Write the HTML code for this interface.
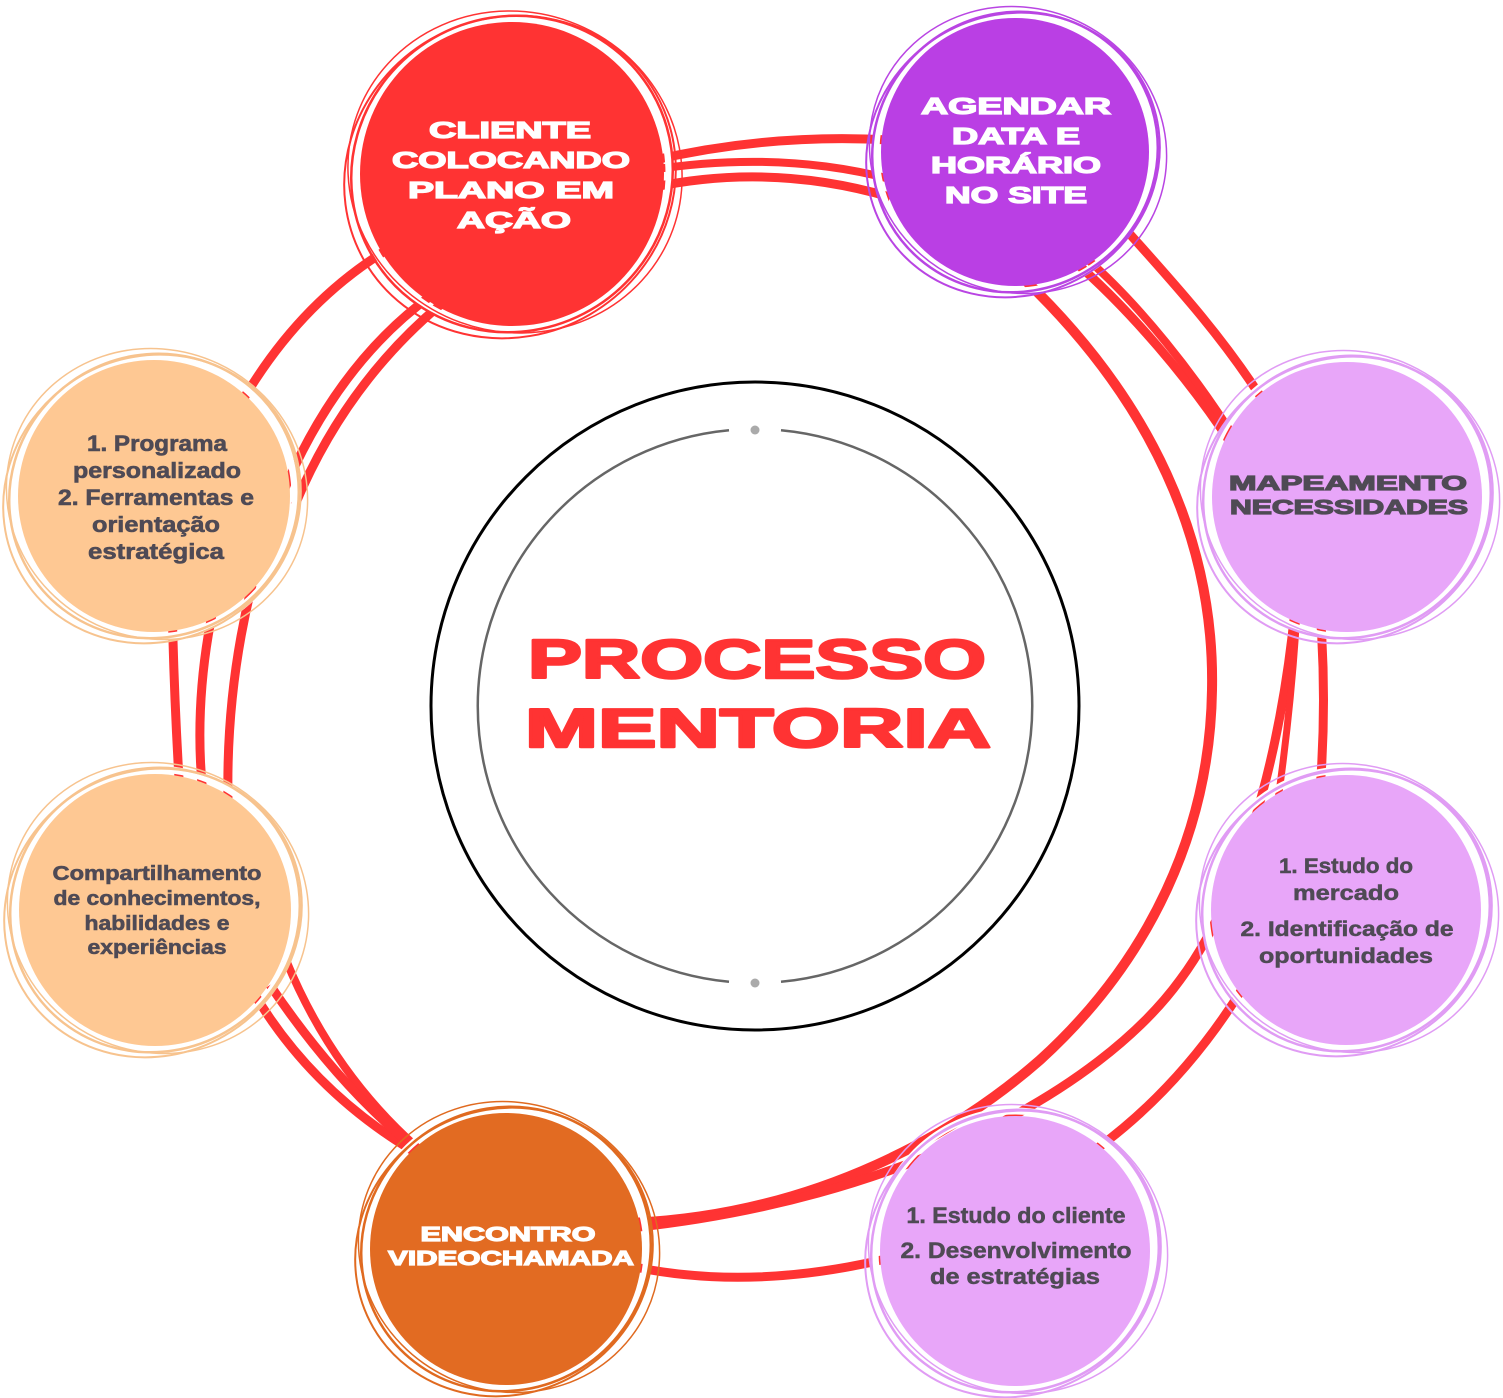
<!DOCTYPE html>
<html><head><meta charset="utf-8"><style>
html,body{margin:0;padding:0;background:#fff;}
svg{display:block;}
text{font-family:"Liberation Sans",Arial,sans-serif;font-weight:bold;}
</style></head><body>
<svg width="1503" height="1398" viewBox="0 0 1503 1398" xmlns="http://www.w3.org/2000/svg">
<rect width="1503" height="1398" fill="#fff"/>

<!-- center circles -->
<circle cx="755" cy="706" r="324" fill="none" stroke="#000" stroke-width="3"/>
<path d="M729,430.2 A277,277 0 0 0 729,981.8" fill="none" stroke="#666" stroke-width="2.5"/>
<path d="M781,430.2 A277,277 0 0 1 781,981.8" fill="none" stroke="#666" stroke-width="2.5"/>
<circle cx="755" cy="430" r="4.5" fill="#aaa"/>
<circle cx="755" cy="983" r="4.5" fill="#aaa"/>

<!-- red connectors -->
<g fill="none" stroke="#FF3333" stroke-linecap="butt">
  <!-- top -->
  <path d="M650,161 Q770,133 890,140" stroke-width="9"/>
  <path d="M650,170 Q780,150 890,179" stroke-width="8"/>
  <path d="M650,188 Q770,162 890,197" stroke-width="9"/>
  <!-- top-left -->
  <path d="M395,245 Q300,300 240,405" stroke-width="9"/>
  <path d="M432,295 Q335,365 280,500" stroke-width="9"/>
  <path d="M440,305 Q345,385 295,505" stroke-width="9"/>
  <!-- left middle -->
  <path d="M172,600 Q174,700 180,795" stroke-width="9"/>
  <path d="M215,600 Q193,700 203,795" stroke-width="9"/>
  <path d="M252,585 Q226,690 228,800" stroke-width="9"/>
  <!-- bottom-left -->
  <path d="M286,960 C322,1048 372,1108 420,1150" stroke-width="8"/>
  <path d="M255,995 C300,1070 360,1120 418,1154" stroke-width="9"/>
  <path d="M270,985 C322,1062 372,1114 420,1152" stroke-width="9"/>
  <!-- big arc -->
  <path d="M1025,280 C1150,400 1215,540 1212,690 C1210,830 1150,960 1040,1060 C960,1130 820,1215 630,1223" stroke-width="10"/>
  <!-- long line B -->
  <path d="M1295,610 C1280,760 1240,900 1180,980 C1100,1090 900,1200 630,1228" stroke-width="9"/>
  <!-- line C -->
  <path d="M1262,955 C1210,1050 1150,1110 1095,1150" stroke-width="9"/>
  <!-- mapeamento to mercado -->
  <path d="M1297,610 Q1292,700 1278,800" stroke-width="7"/>
  <path d="M1320,610 Q1327,700 1320,790" stroke-width="9"/>
  <!-- encontro lower -->
  <path d="M630,1266 Q750,1292 890,1258" stroke-width="9"/>
  <!-- top-right -->
  <path d="M1075,262 C1130,310 1190,380 1232,445" stroke-width="9"/>
  <path d="M1086,258 C1140,305 1195,375 1236,440" stroke-width="8"/>
  <path d="M1128,232 C1180,290 1225,340 1266,405" stroke-width="9"/>
</g>

<!-- nodes -->
<!-- CLIENTE -->
<g fill="none">
  <circle cx="512" cy="174" r="157" stroke="#fff" stroke-width="7"/>
  <circle cx="512" cy="174" r="152" fill="#FF3333"/>
  <ellipse cx="512" cy="174" rx="162" ry="157" transform="rotate(-30 512 174)" stroke="#FF3333" stroke-width="2.5"/>
  <ellipse cx="515" cy="172" rx="168" ry="160" transform="rotate(20 515 172)" stroke="#FF3333" stroke-width="1.5"/>
  <ellipse cx="510" cy="177" rx="159" ry="168" transform="rotate(60 510 177)" stroke="#FF3333" stroke-width="2"/>
</g>
<g fill="#fff" stroke="#fff" stroke-width="1.3" text-anchor="middle" font-size="23">
  <text x="510" y="138" textLength="162" lengthAdjust="spacingAndGlyphs">CLIENTE</text>
  <text x="511" y="168" textLength="238" lengthAdjust="spacingAndGlyphs">COLOCANDO</text>
  <text x="511" y="198" textLength="206" lengthAdjust="spacingAndGlyphs">PLANO EM</text>
  <text x="514" y="228" textLength="114" lengthAdjust="spacingAndGlyphs">AÇÃO</text>
</g>

<!-- AGENDAR -->
<g fill="none">
  <circle cx="1015" cy="152" r="139" stroke="#fff" stroke-width="7"/>
  <circle cx="1015" cy="152" r="134" fill="#BA3FE4"/>
  <ellipse cx="1015" cy="152" rx="144" ry="139" transform="rotate(-30 1015 152)" stroke="#B945E3" stroke-width="2.5"/>
  <ellipse cx="1018" cy="150" rx="150" ry="142" transform="rotate(25 1018 150)" stroke="#B945E3" stroke-width="1.5"/>
  <ellipse cx="1013" cy="155" rx="140" ry="149" transform="rotate(60 1013 155)" stroke="#B945E3" stroke-width="2"/>
</g>
<g fill="#fff" stroke="#fff" stroke-width="1.3" text-anchor="middle" font-size="23">
  <text x="1016" y="114" textLength="190" lengthAdjust="spacingAndGlyphs">AGENDAR</text>
  <text x="1016" y="144" textLength="128" lengthAdjust="spacingAndGlyphs">DATA E</text>
  <text x="1016" y="173" textLength="170" lengthAdjust="spacingAndGlyphs">HORÁRIO</text>
  <text x="1016" y="203" textLength="142" lengthAdjust="spacingAndGlyphs">NO SITE</text>
</g>

<!-- MAPEAMENTO -->
<g fill="none">
  <circle cx="1347" cy="497" r="140" stroke="#fff" stroke-width="7"/>
  <circle cx="1347" cy="497" r="135" fill="#E8A6F9"/>
  <ellipse cx="1347" cy="497" rx="145" ry="140" transform="rotate(-30 1347 497)" stroke="#E09CF4" stroke-width="2.5"/>
  <ellipse cx="1350" cy="495" rx="151" ry="143" transform="rotate(25 1350 495)" stroke="#E09CF4" stroke-width="1.5"/>
  <ellipse cx="1345" cy="500" rx="141" ry="150" transform="rotate(60 1345 500)" stroke="#E09CF4" stroke-width="2"/>
</g>
<g fill="#4F4A55" stroke="#4F4A55" stroke-width="1.2" text-anchor="middle" font-size="20">
  <text x="1348" y="490" textLength="238" lengthAdjust="spacingAndGlyphs">MAPEAMENTO</text>
  <text x="1349" y="514" textLength="238" lengthAdjust="spacingAndGlyphs">NECESSIDADES</text>
</g>

<!-- MERCADO -->
<g fill="none">
  <circle cx="1346" cy="910" r="140" stroke="#fff" stroke-width="7"/>
  <circle cx="1346" cy="910" r="135" fill="#E8A6F9"/>
  <ellipse cx="1346" cy="910" rx="145" ry="140" transform="rotate(-30 1346 910)" stroke="#E09CF4" stroke-width="2.5"/>
  <ellipse cx="1349" cy="908" rx="151" ry="143" transform="rotate(25 1349 908)" stroke="#E09CF4" stroke-width="1.5"/>
  <ellipse cx="1344" cy="913" rx="141" ry="150" transform="rotate(60 1344 913)" stroke="#E09CF4" stroke-width="2"/>
</g>
<g fill="#4F4A55" stroke="#4F4A55" stroke-width="0.5" text-anchor="middle" font-size="21">
  <text x="1346" y="873" textLength="134" lengthAdjust="spacingAndGlyphs">1. Estudo do</text>
  <text x="1346" y="900" textLength="106" lengthAdjust="spacingAndGlyphs">mercado</text>
  <text x="1347" y="936" textLength="213" lengthAdjust="spacingAndGlyphs">2. Identificação de</text>
  <text x="1346" y="963" textLength="174" lengthAdjust="spacingAndGlyphs">oportunidades</text>
</g>

<!-- ESTUDO CLIENTE -->
<g fill="none">
  <circle cx="1015" cy="1251" r="140" stroke="#fff" stroke-width="7"/>
  <circle cx="1015" cy="1251" r="135" fill="#E8A6F9"/>
  <ellipse cx="1015" cy="1251" rx="145" ry="140" transform="rotate(-30 1015 1251)" stroke="#E09CF4" stroke-width="2.5"/>
  <ellipse cx="1018" cy="1249" rx="151" ry="143" transform="rotate(25 1018 1249)" stroke="#E09CF4" stroke-width="1.5"/>
  <ellipse cx="1013" cy="1254" rx="141" ry="150" transform="rotate(60 1013 1254)" stroke="#E09CF4" stroke-width="2"/>
</g>
<g fill="#4F4A55" stroke="#4F4A55" stroke-width="0.5" text-anchor="middle" font-size="22">
  <text x="1016" y="1223" textLength="219" lengthAdjust="spacingAndGlyphs">1. Estudo do cliente</text>
  <text x="1016" y="1258" textLength="231" lengthAdjust="spacingAndGlyphs">2. Desenvolvimento</text>
  <text x="1015" y="1284" textLength="170" lengthAdjust="spacingAndGlyphs">de estratégias</text>
</g>

<!-- ENCONTRO -->
<g fill="none">
  <circle cx="506" cy="1249" r="141" stroke="#fff" stroke-width="7"/>
  <circle cx="506" cy="1249" r="136" fill="#E26B22"/>
  <ellipse cx="506" cy="1249" rx="146" ry="141" transform="rotate(-30 506 1249)" stroke="#E06A20" stroke-width="2.5"/>
  <ellipse cx="509" cy="1247" rx="152" ry="144" transform="rotate(25 509 1247)" stroke="#E06A20" stroke-width="1.5"/>
  <ellipse cx="504" cy="1252" rx="142" ry="151" transform="rotate(60 504 1252)" stroke="#E06A20" stroke-width="2"/>
</g>
<g fill="#fff" stroke="#fff" stroke-width="1.2" text-anchor="middle" font-size="20">
  <text x="508" y="1241" textLength="175" lengthAdjust="spacingAndGlyphs">ENCONTRO</text>
  <text x="511" y="1265" textLength="246" lengthAdjust="spacingAndGlyphs">VIDEOCHAMADA</text>
</g>

<!-- COMPARTILHAMENTO -->
<g fill="none">
  <circle cx="155" cy="910" r="141" stroke="#fff" stroke-width="7"/>
  <circle cx="155" cy="910" r="136" fill="#FEC893"/>
  <ellipse cx="155" cy="910" rx="146" ry="141" transform="rotate(-30 155 910)" stroke="#F7C38E" stroke-width="2.5"/>
  <ellipse cx="158" cy="908" rx="152" ry="144" transform="rotate(25 158 908)" stroke="#F7C38E" stroke-width="1.5"/>
  <ellipse cx="153" cy="913" rx="142" ry="151" transform="rotate(60 153 913)" stroke="#F7C38E" stroke-width="2"/>
</g>
<g fill="#4F4A55" stroke="#4F4A55" stroke-width="0.6" text-anchor="middle" font-size="20">
  <text x="157" y="880" textLength="209" lengthAdjust="spacingAndGlyphs">Compartilhamento</text>
  <text x="157" y="905" textLength="207" lengthAdjust="spacingAndGlyphs">de conhecimentos,</text>
  <text x="157" y="930" textLength="145" lengthAdjust="spacingAndGlyphs">habilidades e</text>
  <text x="157" y="954" textLength="139" lengthAdjust="spacingAndGlyphs">experiências</text>
</g>

<!-- PROGRAMA -->
<g fill="none">
  <circle cx="154" cy="496" r="141" stroke="#fff" stroke-width="7"/>
  <circle cx="154" cy="496" r="136" fill="#FEC893"/>
  <ellipse cx="154" cy="496" rx="146" ry="141" transform="rotate(-30 154 496)" stroke="#F7C38E" stroke-width="2.5"/>
  <ellipse cx="157" cy="494" rx="152" ry="144" transform="rotate(25 157 494)" stroke="#F7C38E" stroke-width="1.5"/>
  <ellipse cx="152" cy="499" rx="142" ry="151" transform="rotate(60 152 499)" stroke="#F7C38E" stroke-width="2"/>
</g>
<g fill="#4F4A55" stroke="#4F4A55" stroke-width="0.6" text-anchor="middle" font-size="22">
  <text x="157" y="451" textLength="140" lengthAdjust="spacingAndGlyphs">1. Programa</text>
  <text x="157" y="478" textLength="168" lengthAdjust="spacingAndGlyphs">personalizado</text>
  <text x="156" y="505" textLength="196" lengthAdjust="spacingAndGlyphs">2. Ferramentas e</text>
  <text x="156" y="532" textLength="128" lengthAdjust="spacingAndGlyphs">orientação</text>
  <text x="156" y="559" textLength="136" lengthAdjust="spacingAndGlyphs">estratégica</text>
</g>

<!-- center title -->
<g fill="#FF3333" stroke="#FF3333" stroke-width="2.5" stroke-linejoin="round" text-anchor="middle" font-size="55">
  <text x="757" y="678" textLength="458" lengthAdjust="spacingAndGlyphs">PROCESSO</text>
  <text x="758" y="747" textLength="466" lengthAdjust="spacingAndGlyphs">MENTORIA</text>
</g>
</svg>
</body></html>
